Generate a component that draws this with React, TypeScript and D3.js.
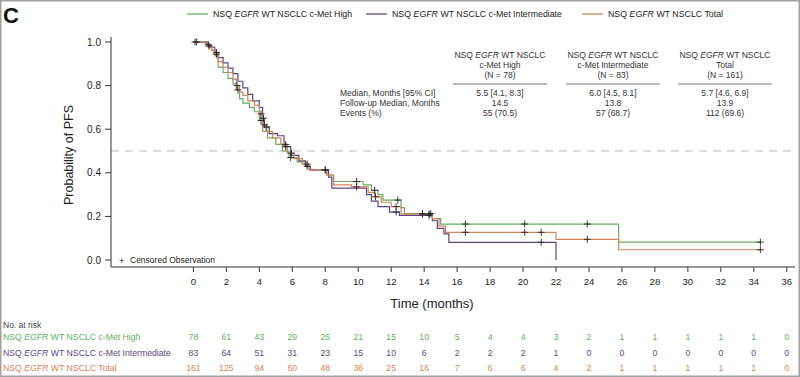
import React, { useEffect } from 'react';
import * as d3 from 'd3';

const W = 800;
const H = 377;

const xTicks = [0, 2, 4, 6, 8, 10, 12, 14, 16, 18, 20, 22, 24, 26, 28, 30, 32, 34, 36];
const yTicks = [0, 0.2, 0.4, 0.6, 0.8, 1.0];

// c-Met High (green)
const highTimes = [0, 0.9, 1.1, 1.3, 1.5, 1.8, 2.1, 2.4, 2.6, 2.8, 3.0, 3.4, 3.7, 4.0, 4.2, 4.5, 5.0, 5.4, 5.8, 6.3, 6.8, 7.1, 8.1, 8.5, 10.3, 10.8, 11.2, 11.5, 12.6, 12.8, 14.5, 15.0, 25.8];
const highSurv = [1, 0.987, 0.962, 0.936, 0.885, 0.86, 0.833, 0.808, 0.78, 0.74, 0.72, 0.70, 0.68, 0.64, 0.59, 0.56, 0.53, 0.50, 0.47, 0.45, 0.43, 0.413, 0.39, 0.36, 0.345, 0.32, 0.30, 0.275, 0.24, 0.213, 0.19, 0.165, 0.082];
const highEnd = 34.4;
const highCensor = [0.9, 2.7, 4.1, 5.9, 6.9, 9.9, 11.0, 12.4, 13.9, 14.4, 16.5, 20.1, 23.9, 34.4];

// c-Met Intermediate (purple)
const intTimes = [0, 0.8, 1.0, 1.3, 1.5, 1.8, 2.1, 2.4, 2.7, 3.0, 3.3, 3.6, 4.0, 4.2, 4.3, 4.6, 5.1, 5.5, 5.9, 6.4, 6.8, 7.1, 8.2, 8.4, 10.5, 10.8, 11.2, 11.9, 12.5, 14.5, 14.8, 15.2, 15.5, 22.0];
const intSurv = [1, 0.988, 0.976, 0.952, 0.928, 0.904, 0.88, 0.855, 0.82, 0.79, 0.76, 0.73, 0.70, 0.65, 0.61, 0.58, 0.57, 0.52, 0.48, 0.455, 0.43, 0.413, 0.38, 0.33, 0.30, 0.27, 0.245, 0.22, 0.205, 0.18, 0.145, 0.12, 0.081, 0];
const intEnd = 22.0;
const intCensor = [0.2, 1.4, 4.25, 4.45, 5.6, 8.0, 12.3, 14.3, 21.1];

// Total (orange)
const totTimes = [0, 0.7, 0.9, 1.1, 1.3, 1.5, 1.8, 2.1, 2.4, 2.6, 2.8, 3.0, 3.3, 3.7, 4.0, 4.2, 4.4, 4.8, 5.3, 5.7, 6.1, 6.6, 7.0, 8.1, 8.5, 9.6, 10.6, 11.0, 11.4, 12.0, 12.6, 14.5, 14.9, 15.3, 22.0, 25.8];
const totSurv = [1, 0.994, 0.981, 0.963, 0.944, 0.91, 0.885, 0.86, 0.83, 0.80, 0.77, 0.755, 0.73, 0.71, 0.67, 0.62, 0.59, 0.56, 0.53, 0.49, 0.465, 0.44, 0.413, 0.39, 0.345, 0.335, 0.31, 0.29, 0.265, 0.245, 0.21, 0.19, 0.155, 0.127, 0.095, 0.047];
const totEnd = 34.4;
const totCensor = [0.1, 0.95, 1.4, 2.65, 4.1, 4.3, 5.6, 5.95, 6.9, 8.0, 9.9, 11.05, 12.3, 13.9, 14.3, 16.5, 20.1, 21.1, 23.9, 34.4];

const riskHigh = [78, 61, 43, 29, 25, 21, 15, 10, 5, 4, 4, 3, 2, 1, 1, 1, 1, 1, 0];
const riskInt = [83, 64, 51, 31, 23, 15, 10, 6, 2, 2, 2, 1, 0, 0, 0, 0, 0, 0, 0];
const riskTot = [161, 125, 94, 60, 48, 36, 25, 16, 7, 6, 6, 4, 2, 1, 1, 1, 1, 1, 0];

const tableRowLabels = ['Median, Months [95% CI]', 'Follow-up Median, Months', 'Events (%)'];
const tableColSub = ['c-Met High', 'c-Met Intermediate', 'Total'];
const tableColN = ['(N = 78)', '(N = 83)', '(N = 161)'];
const tableMedian = ['5.5 [4.1, 8.3]', '6.0 [4.5, 8.1]', '5.7 [4.6, 6.9]'];
const tableFollow = ['14.5', '13.8', '13.9'];
const tableEvents = ['55 (70.5)', '57 (68.7)', '112 (69.6)'];

const GREEN = '#68ab66';
const PURPLE = '#5d4585';
const ORANGE = '#d4845a';
const FONT = '"Liberation Sans", Arial, Helvetica, sans-serif';

function survAt(times: number[], surv: number[], t: number) {
  let s = 1;
  for (let i = 0; i < times.length; i++) if (times[i] <= t) s = surv[i];
  return s;
}

const Nsq = ({ suffix }: { suffix: string }) => (
  <>
    <tspan>NSQ </tspan>
    <tspan fontStyle="italic">EGFR</tspan>
    <tspan>{' WT NSCLC' + suffix}</tspan>
  </>
);

export default function App() {
  useEffect(() => {
    document.body.style.margin = '0';
  }, []);

  const x = d3.scaleLinear().domain([-5, 36.5]).range([111, 795]);
  const y = d3.scaleLinear().domain([0, 1]).range([260, 42]);
  const line = d3
    .line<[number, number]>()
    .x((d) => x(d[0]))
    .y((d) => y(d[1]))
    .curve(d3.curveStepAfter);

  const series = [
    { times: highTimes, surv: highSurv, end: highEnd, cens: highCensor, color: GREEN },
    { times: intTimes, surv: intSurv, end: intEnd, cens: intCensor, color: PURPLE },
    { times: totTimes, surv: totSurv, end: totEnd, cens: totCensor, color: ORANGE },
  ];

  const legend = [
    { x0: 187, color: GREEN, suffix: ' c-Met High' },
    { x0: 366, color: PURPLE, suffix: ' c-Met Intermediate' },
    { x0: 582, color: ORANGE, suffix: ' Total' },
  ];

  const colCenters = [500, 613, 725];
  const risk = [
    { vals: riskHigh, color: GREEN, suffix: ' c-Met High', yb: 340 },
    { vals: riskInt, color: PURPLE, suffix: ' c-Met Intermediate', yb: 356 },
    { vals: riskTot, color: ORANGE, suffix: ' Total', yb: 371 },
  ];

  return (
    <svg width={W} height={H} style={{ position: 'absolute', left: 0, top: 0, background: '#fff' }} fontFamily={FONT}>
      <rect x={0} y={0} width={W} height={H} fill="#fff" />
      <rect x={0.75} y={0.75} width={W - 1.5} height={H - 1.5} fill="none" stroke="#a0a0a0" strokeWidth={1.5} />
      <text x={3} y={23} fontSize={22} fontWeight="bold" fill="#111">C</text>

      {/* legend */}
      {legend.map((l, i) => (
        <g key={i}>
          <line x1={l.x0} x2={l.x0 + 21} y1={14} y2={14} stroke={l.color} strokeWidth={1.3} />
          <text x={l.x0 + 26} y={17.3} fontSize={8.8} fill="#222">
            <Nsq suffix={l.suffix} />
          </text>
        </g>
      ))}

      {/* dashed median line */}
      <line x1={111} x2={795} y1={y(0.5)} y2={y(0.5)} stroke="#b8b8b8" strokeWidth={1} strokeDasharray="8,6" />

      {/* axes */}
      <line x1={111} x2={111} y1={37} y2={267} stroke="#333" strokeWidth={1} />
      <line x1={111} x2={795} y1={267} y2={267} stroke="#333" strokeWidth={1} />
      {yTicks.map((t) => (
        <g key={t}>
          <line x1={105} x2={111} y1={y(t)} y2={y(t)} stroke="#333" />
          <text x={101} y={y(t) + 3.5} fontSize={10} textAnchor="end" fill="#222">{t.toFixed(1)}</text>
        </g>
      ))}
      {xTicks.map((t) => (
        <g key={t}>
          <line x1={x(t)} x2={x(t)} y1={267} y2={272} stroke="#333" />
          <text x={x(t)} y={285} fontSize={9.5} textAnchor="middle" fill="#222">{t}</text>
        </g>
      ))}
      <text x={432} y={308} fontSize={13} textAnchor="middle" fill="#222">Time (months)</text>
      <text transform="translate(73,155) rotate(-90)" fontSize={12.5} textAnchor="middle" fill="#222">Probability of PFS</text>

      {/* KM curves */}
      {series.map((s, i) => {
        const pts: [number, number][] = s.times.map((t, j) => [t, s.surv[j]] as [number, number]);
        const last = pts[pts.length - 1];
        if (s.end > last[0]) pts.push([s.end, last[1]]);
        return <path key={i} d={line(pts) || ''} fill="none" stroke={s.color} strokeWidth={1.2} />;
      })}
      {series.map((s, i) => (
        <g key={'c' + i}>
          {s.cens.map((c, j) => {
            const cx = x(c);
            const cy = y(survAt(s.times, s.surv, c));
            return (
              <path key={j} d={`M${cx - 3.5},${cy}H${cx + 3.5}M${cx},${cy - 3.5}V${cy + 3.5}`} stroke="#222" strokeWidth={0.9} />
            );
          })}
        </g>
      ))}

      <text x={119} y={263.5} fontSize={9} fill="#222">+</text>
      <text x={130} y={263} fontSize={8.5} fill="#222">Censored Observation</text>

      {/* summary table */}
      {colCenters.map((cx, i) => (
        <g key={i} fontSize={8.5} fill="#333" textAnchor="middle">
          <text x={cx} y={58}><Nsq suffix="" /></text>
          <text x={cx} y={68}>{tableColSub[i]}</text>
          <text x={cx} y={78}>{tableColN[i]}</text>
          <line x1={cx - 47} x2={cx + 47} y1={84} y2={84} stroke="#555" strokeWidth={0.8} />
          <text x={cx} y={96}>{tableMedian[i]}</text>
          <text x={cx} y={106}>{tableFollow[i]}</text>
          <text x={cx} y={115.5}>{tableEvents[i]}</text>
        </g>
      ))}
      {tableRowLabels.map((l, i) => (
        <text key={l} x={340} y={96 + i * 10 - (i === 2 ? 0.5 : 0)} fontSize={8.5} fill="#333">{l}</text>
      ))}

      {/* number at risk */}
      <text x={3} y={328} fontSize={8.5} fill="#444">No. at risk</text>
      {risk.map((r, i) => (
        <g key={i} fill={r.color} fontSize={8.7}>
          <text x={3} y={r.yb}><Nsq suffix={r.suffix} /></text>
          {r.vals.map((v, j) => (
            <text key={j} x={x(xTicks[j])} y={r.yb} textAnchor="middle">{v}</text>
          ))}
        </g>
      ))}
    </svg>
  );
}
